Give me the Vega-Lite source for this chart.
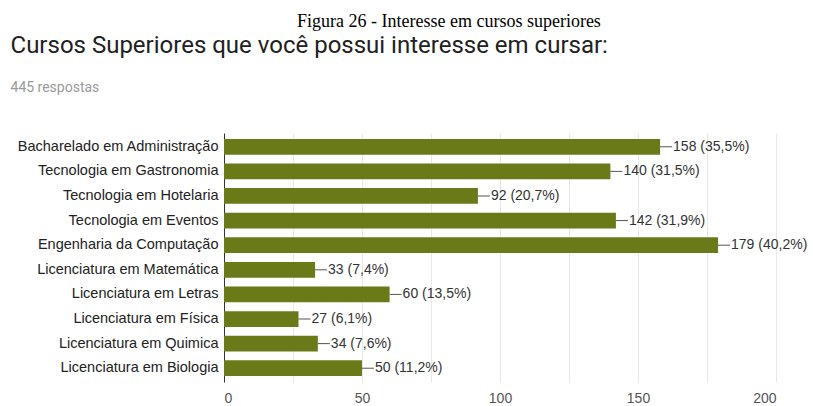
{
  "$schema": "https://vega.github.io/schema/vega-lite/v6.json",
  "padding": {"left": 10, "top": 13, "right": 5, "bottom": 5},
  "background": "white",
  "title": {
    "text": "Figura 26 - Interesse em cursos superiores",
    "font": "Liberation Serif",
    "fontSize": 18,
    "fontWeight": "normal",
    "color": "#000000",
    "anchor": "middle",
    "dx": 40,
    "offset": 3
  },
  "data": {
    "values": [
      {"curso": "Bacharelado em Administração", "n": 158, "label": "158 (35,5%)"},
      {"curso": "Tecnologia em Gastronomia", "n": 140, "label": "140 (31,5%)"},
      {"curso": "Tecnologia em Hotelaria", "n": 92, "label": "92 (20,7%)"},
      {"curso": "Tecnologia em Eventos", "n": 142, "label": "142 (31,9%)"},
      {"curso": "Engenharia da Computação", "n": 179, "label": "179 (40,2%)"},
      {"curso": "Licenciatura em Matemática", "n": 33, "label": "33 (7,4%)"},
      {"curso": "Licenciatura em Letras", "n": 60, "label": "60 (13,5%)"},
      {"curso": "Licenciatura em Física", "n": 27, "label": "27 (6,1%)"},
      {"curso": "Licenciatura em Quimica", "n": 34, "label": "34 (7,6%)"},
      {"curso": "Licenciatura em Biologia", "n": 50, "label": "50 (11,2%)"}
    ]
  },
  "vconcat": [
    {
      "width": 552,
      "height": 249,
      "title": {
        "text": "Cursos Superiores que você possui interesse em cursar:",
        "subtitle": "445 respostas",
        "anchor": "start",
        "frame": "bounds",
        "font": "Roboto",
        "fontSize": 24,
        "fontWeight": "normal",
        "color": "#212121",
        "subtitleFont": "Roboto",
        "subtitleFontSize": 14,
        "subtitleColor": "#9a9a9a",
        "subtitlePadding": 23,
        "offset": 38,
        "dx": -6
      },
      "encoding": {
        "y": {
          "field": "curso",
          "type": "nominal",
          "sort": null,
          "scale": {"paddingInner": 0.36, "paddingOuter": 0.24},
          "axis": {
            "title": null,
            "ticks": false,
            "labelPadding": 6,
            "labelLimit": 400,
            "labelFont": "Liberation Sans",
            "labelFontSize": 14.5,
            "labelColor": "#222222",
            "domain": true,
            "domainColor": "#333333",
            "grid": false
          }
        }
      },
      "layer": [
        {
          "mark": {"type": "bar", "color": "#6b7a19"},
          "encoding": {
            "x": {
              "field": "n",
              "type": "quantitative",
              "scale": {"domain": [0, 200], "nice": false},
              "axis": {
                "title": null,
                "values": [0, 25, 50, 75, 100, 125, 150, 175, 200],
                "labelExpr": "datum.value % 50 === 0 ? datum.label : ''",
                "domain": false,
                "ticks": false,
                "grid": true,
                "gridColor": "#e8e8e8",
                "labelFont": "Liberation Sans",
                "labelFontSize": 14,
                "labelColor": "#555555",
                "labelPadding": 9
              }
            }
          }
        },
        {
          "mark": {"type": "rule", "color": "#555555", "strokeWidth": 1, "x2Offset": 12},
          "encoding": {
            "x": {"field": "n", "type": "quantitative"},
            "x2": {"field": "n"}
          }
        },
        {
          "mark": {"type": "text", "align": "left", "baseline": "middle", "dx": 13, "font": "Liberation Sans", "fontSize": 14, "color": "#333333"},
          "encoding": {
            "x": {"field": "n", "type": "quantitative"},
            "text": {"field": "label"}
          }
        }
      ]
    }
  ],
  "config": {"view": {"stroke": null}}
}
